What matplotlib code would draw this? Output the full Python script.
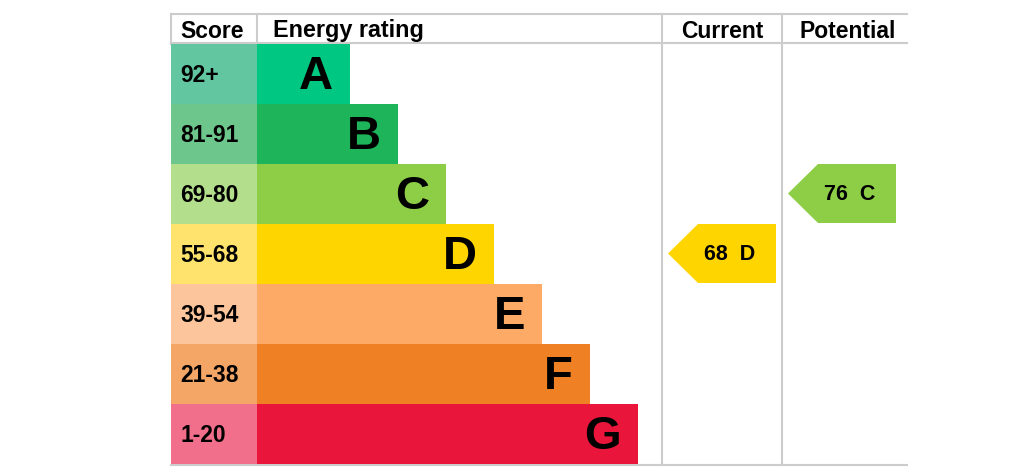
import matplotlib
matplotlib.use("Agg")
import matplotlib.pyplot as plt
from matplotlib.patches import Rectangle, Polygon

# EPC rating bands
bands = ['A', 'B', 'C', 'D', 'E', 'F', 'G']
score_labels = ['92+', '81-91', '69-80', '55-68', '39-54', '21-38', '1-20']
band_min = [92, 81, 69, 55, 39, 21, 1]
bar_colors = ['#00c781', '#1db45a', '#8dce46', '#ffd500', '#fcaa65', '#ef8023', '#e9153b']
score_colors = ['#62c6a0', '#6dc78c', '#b3de8b', '#ffe36c', '#fdc59b', '#f4a667', '#f16f8a']
headers = ['Score', 'Energy rating', 'Current', 'Potential']
current_score = 68
potential_score = 76

plt.rcParams['font.family'] = ['Liberation Sans', 'DejaVu Sans']

fig = plt.figure(figsize=(10.24, 4.72), dpi=100)
ax = fig.add_axes([0, 0, 1, 1])
ax.set_xlim(0, 1024)
ax.set_ylim(472, 0)
ax.axis('off')

# layout (pixels)
x_left, x_score, x_cur, x_pot, x_right = 171, 257, 662, 782, 907
y_top, y_head, row_h = 14, 44, 60
bar_end0, bar_step = 350, 48
y_bottom = y_head + row_h * len(bands)
grid = '#cccccc'


def band_of(score):
    for i, m in enumerate(band_min):
        if score >= m:
            return i
    return len(bands) - 1


# grid lines
for y in [y_top, y_head - 1, y_bottom + 1]:
    ax.plot([x_left, x_right], [y, y], color=grid, lw=1.5, zorder=1)
for x in [x_left, x_score]:
    ax.plot([x, x], [y_top, y_head], color=grid, lw=1.5, zorder=1)
for x in [x_cur, x_pot]:
    ax.plot([x, x], [y_top, y_bottom + 1], color=grid, lw=1.5, zorder=1)

# header text
hy = 31
ax.text(x_left + 9, hy, headers[0], fontsize=16.5, fontweight='bold', va='center', ha='left')
ax.text(x_score + 16, hy, headers[1], fontsize=16.8, fontweight='bold', va='center', ha='left')
ax.text((x_cur + x_pot) / 2, hy, headers[2], fontsize=16.5, fontweight='bold', va='center', ha='center')
ax.text((x_pot + x_right) / 2 + 3, hy, headers[3], fontsize=16.5, fontweight='bold', va='center', ha='center')

# rows
for i, b in enumerate(bands):
    y0 = y_head + i * row_h
    ax.add_patch(Rectangle((x_left, y0), x_score - x_left, row_h, color=score_colors[i], lw=0, zorder=2))
    end = bar_end0 + bar_step * i
    ax.add_patch(Rectangle((x_score, y0), end - x_score, row_h, color=bar_colors[i], lw=0, zorder=2))
    ax.text(x_left + 9, y0 + row_h / 2 + 1, score_labels[i], fontsize=16.5, fontweight='bold',
            va='center', ha='left', zorder=3)
    ax.text(end - 17, y0 + row_h / 2 + 3, b, fontsize=34, fontweight='bold',
            va='center', ha='right', zorder=3)


def arrow(score, x0, x1):
    i = band_of(score)
    y0 = y_head + i * row_h
    y1 = y0 + row_h - 1
    tip = 30
    pts = [(x0, (y0 + y1) / 2), (x0 + tip, y0), (x1, y0), (x1, y1), (x0 + tip, y1)]
    ax.add_patch(Polygon(pts, closed=True, color=bar_colors[i], lw=0, zorder=2))
    ax.text((x0 + tip + x1) / 2 - 7, (y0 + y1) / 2 + 1, '%d  %s' % (score, bands[i]),
            fontsize=15.5, fontweight='bold', va='center', ha='center', zorder=3)


arrow(current_score, x_cur + 6, x_pot - 6)
arrow(potential_score, x_pot + 6, x_right - 11)

fig.savefig('out.png', dpi=100, facecolor='white')
